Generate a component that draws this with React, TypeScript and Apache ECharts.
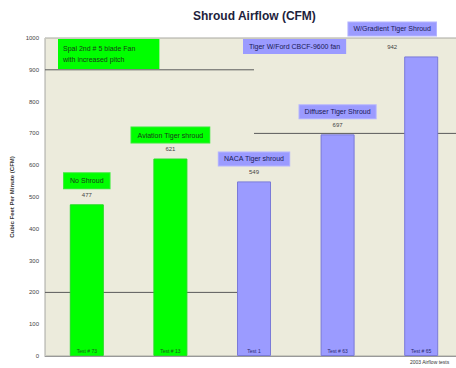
import React, { useEffect, useRef } from "react";
import * as echarts from "echarts";

const categories = ["Test # 73", "Test # 13", "Test 1", "Test # 63", "Test # 65"];
const values = [477, 621, 549, 697, 942];
const descriptions = [
  "No Shroud",
  "Aviation Tiger shroud",
  "NACA Tiger shroud",
  "Diffuser Tiger Shroud",
  "W/Gradient Tiger Shroud",
];
const groups = ["green", "green", "blue", "blue", "blue"];
const refLines = [
  { value: 900, from: -0.5, to: 2 },
  { value: 200, from: -0.5, to: 2 },
  { value: 700, from: 2, to: 4.5 },
];
const yMin = 0;
const yMax = 1000;
const yStep = 100;

const FONT = "Liberation Sans";
const GREEN = "#00ff00";
const BLUE = "#9b9bff";

export default function App() {
  const ref = useRef<HTMLDivElement>(null);
  useEffect(() => {
    if (!ref.current) return;
    const chart = echarts.init(ref.current, undefined, { renderer: "svg" });

    const barData = values.map((v, i) => {
      const isGreen = groups[i] === "green";
      const last = i === values.length - 1;
      return {
        value: v,
        itemStyle: {
          color: isGreen ? GREEN : BLUE,
          borderColor: isGreen ? "#22dd22" : "#7a7ad8",
          borderWidth: 1,
        },
        label: {
          offset: last ? [-29, 0] : [0, 0],
          formatter: last
            ? `{${isGreen ? "gbox" : "bbox"}|${descriptions[i]}}\n{gap| }\n{val|${v}}`
            : `{${isGreen ? "gbox" : "bbox"}|${descriptions[i]}}\n{val|${v}}`,
        },
      };
    });

    chart.setOption({
      animation: false,
      backgroundColor: "#ffffff",
      textStyle: { fontFamily: FONT },
      title: {
        text: "Shroud Airflow (CFM)",
        left: 188,
        top: 5,
        textStyle: { fontFamily: FONT, fontSize: 12, fontWeight: "bold", color: "#1e1e3c" },
      },
      grid: {
        left: 45,
        top: 38,
        bottom: 12,
        right: -7,
        show: true,
        backgroundColor: "#ecebdc",
        borderColor: "#a8a8a0",
        borderWidth: 1,
        outerBoundsMode: "none",
      },
      xAxis: [
        {
          type: "category",
          data: categories,
          z: 10,
          axisLine: { lineStyle: { color: "#999" } },
          axisTick: { show: false },
          axisLabel: {
            inside: true,
            margin: 3,
            fontSize: 5,
            formatter: (val: string, idx: number) =>
              groups[idx] === "green" ? `{g|${val}}` : `{b|${val}}`,
            rich: {
              g: { color: "#1d5a1d", fontSize: 5, fontFamily: FONT },
              b: { color: "#2a2a70", fontSize: 5, fontFamily: FONT },
            },
          },
        },
        {
          type: "value",
          min: -0.5,
          max: 4.5,
          show: false,
        },
      ],
      yAxis: {
        type: "value",
        min: yMin,
        max: yMax,
        interval: yStep,
        name: "Cubic Feet Per Minute (CFM)",
        nameLocation: "middle",
        nameGap: 29,
        nameTextStyle: { fontFamily: FONT, fontSize: 6, fontWeight: "bold", color: "#333" },
        axisLine: { show: true, onZero: false, lineStyle: { color: "#c8c8c0" } },
        axisTick: { show: false },
        splitLine: { show: false },
        axisLabel: {
          fontSize: 6,
          color: "#444",
          margin: 6,
          fontFamily: FONT,
          formatter: (v: number) => String(v),
        },
      },
      series: [
        ...refLines.map((r) => ({
          type: "line",
          xAxisIndex: 1,
          z: 1,
          symbol: "none",
          silent: true,
          data: [
            [r.from, r.value],
            [r.to, r.value],
          ],
          lineStyle: { color: "#5a5a5a", width: 1 },
        })),
        {
          type: "bar",
          xAxisIndex: 0,
          z: 2,
          barWidth: 34,
          data: barData,
          label: {
            show: true,
            position: "top",
            distance: 3,
            rich: {
              gbox: {
                backgroundColor: GREEN,
                borderColor: "#33ee33",
                borderWidth: 1,
                color: "#1a3a1a",
                fontSize: 7,
                fontFamily: FONT,
                padding: [4, 6, 4, 6],
              },
              bbox: {
                backgroundColor: BLUE,
                borderColor: "#b4b4ff",
                borderWidth: 1,
                color: "#1a1a55",
                fontSize: 7,
                fontFamily: FONT,
                padding: [3, 5, 3, 5],
              },
              val: { color: "#444", fontSize: 6, lineHeight: 13, fontFamily: FONT },
              gap: { fontSize: 4, lineHeight: 5 },
            },
          },
        },
      ],
      graphic: [
        {
          type: "text",
          left: 58,
          top: 39,
          z: 20,
          style: {
            text: "Spal 2nd # 5 blade Fan\nwith increased pitch",
            fontFamily: FONT,
            fontSize: 7,
            lineHeight: 11,
            fill: "#1a3a1a",
            backgroundColor: GREEN,
            padding: [4, 24, 4, 5],
          },
        },
        {
          type: "text",
          left: 243,
          top: 39,
          z: 20,
          style: {
            text: "Tiger W/Ford CBCF-9600 fan",
            fontFamily: FONT,
            fontSize: 7,
            fill: "#1a1a55",
            backgroundColor: BLUE,
            padding: [4, 6, 4, 6],
          },
        },
        {
          type: "text",
          left: 410,
          top: 359,
          style: {
            text: "2003 Airflow tests",
            fontFamily: FONT,
            fontSize: 5,
            fill: "#333",
          },
        },
      ],
    });
    return () => chart.dispose();
  }, []);
  return (
    <div
      ref={ref}
      style={{ position: "fixed", left: 0, top: 0, width: 456, height: 368, overflow: "hidden" }}
    />
  );
}
